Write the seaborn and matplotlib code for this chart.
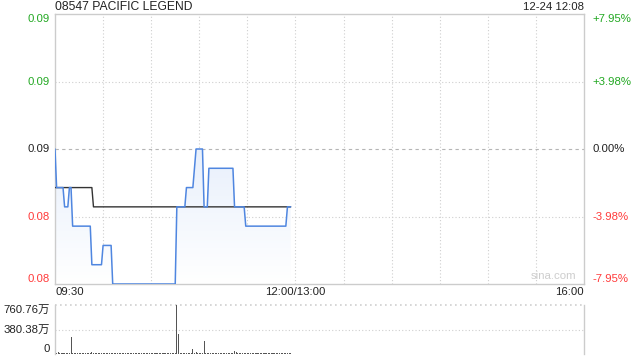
import numpy as np
import pandas as pd
import matplotlib
matplotlib.use("Agg")
import matplotlib.pyplot as plt
import seaborn as sns

# ---------------- data ----------------
title = "08547 PACIFIC LEGEND"
stamp = "12-24 12:08"
prev_close = 0.088

price_minutes = [0, 1, 5, 6, 8, 9, 10, 11, 22, 23, 29, 30, 35, 36, 75, 76, 81, 82,
                 86, 88, 92, 93, 95, 96, 111, 112, 118, 119, 144, 145, 147]
price_values = [0.088, 0.086, 0.086, 0.085, 0.085, 0.086, 0.086, 0.084, 0.084, 0.082,
                0.082, 0.083, 0.083, 0.081, 0.081, 0.085, 0.085, 0.086, 0.086, 0.088,
                0.088, 0.085, 0.085, 0.087, 0.087, 0.085, 0.085, 0.084, 0.084, 0.085,
                0.085]

avg_minutes = [0, 23, 24, 147]
avg_values = [0.086, 0.086, 0.085, 0.085]

volume_wan = [
    24, 16, 30, 14, 20, 18, 12, 15, 22, 12,
    265, 14, 16, 10, 18, 12, 15, 20, 14, 10,
    16, 12, 14, 26, 18, 10, 14, 16, 12, 15,
    14, 18, 10, 15, 12, 16, 14, 20, 12, 15,
    12, 14, 16, 10, 15, 18, 12, 14, 16, 10,
    15, 12, 18, 14, 10, 16, 14, 12, 15, 18,
    10, 14, 16, 12, 15, 14, 18, 10, 12, 16,
    14, 15, 12, 18, 10, 14, 760.76, 315, 16, 12,
    14, 18, 15, 12, 20, 16, 78, 14, 30, 15,
    12, 16, 14, 204, 18, 12, 15, 14, 10, 16,
    14, 12, 18, 15, 10, 14, 16, 12, 15, 14,
    18, 16, 47, 32, 14, 15, 12, 18, 14, 10,
    16, 14, 12, 15, 18, 10, 14, 16, 12, 15,
    14, 18, 12, 10, 16, 14, 15, 12, 18, 14,
    10, 16, 14, 12, 15, 18, 12, 14,
]

price_ticks = [0.081, 0.0845, 0.088, 0.0915, 0.095]
price_labels = ["0.08", "0.08", "0.09", "0.09", "0.09"]
pct_labels = ["-7.95%", "-3.98%", "0.00%", "+3.98%", "+7.95%"]
vol_ticks = [0, 380.38, 760.76]
vol_labels = ["0", "380.38万", "760.76万"]
time_labels = ["09:30", "12:00/13:00", "16:00"]
time_positions = [0, 150, 330]

# ---------------- style ----------------
sns.set_style("white")
plt.rcParams["font.family"] = ["Liberation Sans", "Noto Sans CJK SC", "DejaVu Sans"]
FS = 8.2
GREEN = "#22a822"
RED = "#ff3a3a"
BLUE = "#4f86e0"
GRID = "#cfcfcf"
FRAME = "#cccccc"

W, H = 640, 360
fig = plt.figure(figsize=(6.4, 3.6), dpi=100)
L, R = 55, 584
ax = fig.add_axes([L / W, 1 - 284 / H, (R - L) / W, (284 - 14) / H])
axv = fig.add_axes([L / W, 1 - 354 / H, (R - L) / W, (354 - 305) / H])

# ---------------- main price panel ----------------
ax.set_xlim(0, 330)
ax.set_ylim(0.081, 0.095)

for xm in range(30, 330, 30):
    ax.axvline(xm, color=GRID, lw=0.8, ls=(0, (1, 2)), zorder=0)
for yv in [0.0845, 0.0915]:
    ax.axhline(yv, color=GRID, lw=0.8, ls=(0, (1, 2)), zorder=0)
ax.axhline(prev_close, color="#b5b5b5", lw=0.8, ls=(0, (3, 3)), zorder=0)

df_p = pd.DataFrame({"minute": price_minutes, "price": price_values})
df_a = pd.DataFrame({"minute": avg_minutes, "price": avg_values})

# gradient fill under price line
poly = ax.fill_between(df_p["minute"], df_p["price"], 0.081, color="none", lw=0)
grad = np.linspace(0, 1, 256).reshape(-1, 1)
top_c = np.array([0.82, 0.88, 0.975])
bot_c = np.array([1.0, 1.0, 1.0])
img = top_c[None, None, :] * (1 - grad[:, :, None]) + bot_c[None, None, :] * grad[:, :, None]
im = ax.imshow(img, extent=[0, 330, 0.081, 0.095], aspect="auto", origin="upper", zorder=1)
path = poly.get_paths()[0]
im.set_clip_path(path, transform=ax.transData)

sns.lineplot(data=df_a, x="minute", y="price", ax=ax, color="#333333", lw=1.0, zorder=3)
sns.lineplot(data=df_p, x="minute", y="price", ax=ax, color=BLUE, lw=1.1, zorder=4)

ax.set_xlabel("")
ax.set_ylabel("")
ax.set_xticks([])
ax.set_yticks(price_ticks)
ax.set_yticklabels(price_labels)
ax.tick_params(axis="y", length=0, pad=4, labelsize=FS)
colors_l = [RED, RED, "#222222", GREEN, GREEN]
vas = ["bottom", "center", "center", "center", "top"]
for lab, c, va in zip(ax.get_yticklabels(), colors_l, vas):
    lab.set_color(c)
    lab.set_va(va)

# right percent labels
for yv, txt, c, va in zip(price_ticks, pct_labels, colors_l, vas):
    ax.annotate(txt, xy=(1, yv), xycoords=("axes fraction", "data"),
                xytext=(6, 0), textcoords="offset points", ha="left", va=va,
                color=c, fontsize=FS)

for sp in ax.spines.values():
    sp.set_color(FRAME)
    sp.set_linewidth(1.0)

# time labels
for pos, txt in zip(time_positions, time_labels):
    ha = "left" if pos == 0 else ("right" if pos == 330 else "center")
    ax.text(pos, -0.012, txt, transform=ax.get_xaxis_transform(), ha=ha, va="top",
            fontsize=FS, color="#222222")

ax.text(0.985, 0.012, "sina.com", transform=ax.transAxes, ha="right", va="bottom",
        fontsize=FS, color="#cdcdcd")

fig.text(L / W, 1 - 7 / H, title, ha="left", va="center", fontsize=8.7, color="#222222")
fig.text(R / W, 1 - 7 / H, stamp, ha="right", va="center", fontsize=FS, color="#222222")

# ---------------- volume panel ----------------
minutes = list(range(len(volume_wan)))
axv.bar(minutes, volume_wan, width=0.65, color="#555555", lw=0)
axv.set_xlim(0, 330)
axv.set_ylim(0, 760.76)
axv.axhline(380.38, color=GRID, lw=0.8, ls=(0, (1, 2)), zorder=0)
axv.axhline(760.76, color=GRID, lw=1.2, ls=(0, (1, 2)), zorder=0, clip_on=False)
axv.set_xticks([])
axv.set_yticks(vol_ticks)
axv.set_yticklabels(vol_labels)
axv.tick_params(axis="y", length=0, pad=4, labelsize=FS)
for lab, va in zip(axv.get_yticklabels(), ["bottom", "center", "top"]):
    lab.set_va(va)
    lab.set_color("#222222")
axv.spines["top"].set_visible(False)
axv.spines["bottom"].set_visible(False)
for s in ["left", "right"]:
    axv.spines[s].set_color(FRAME)
    axv.spines[s].set_linewidth(1.0)

fig.savefig("out.png", dpi=100)
